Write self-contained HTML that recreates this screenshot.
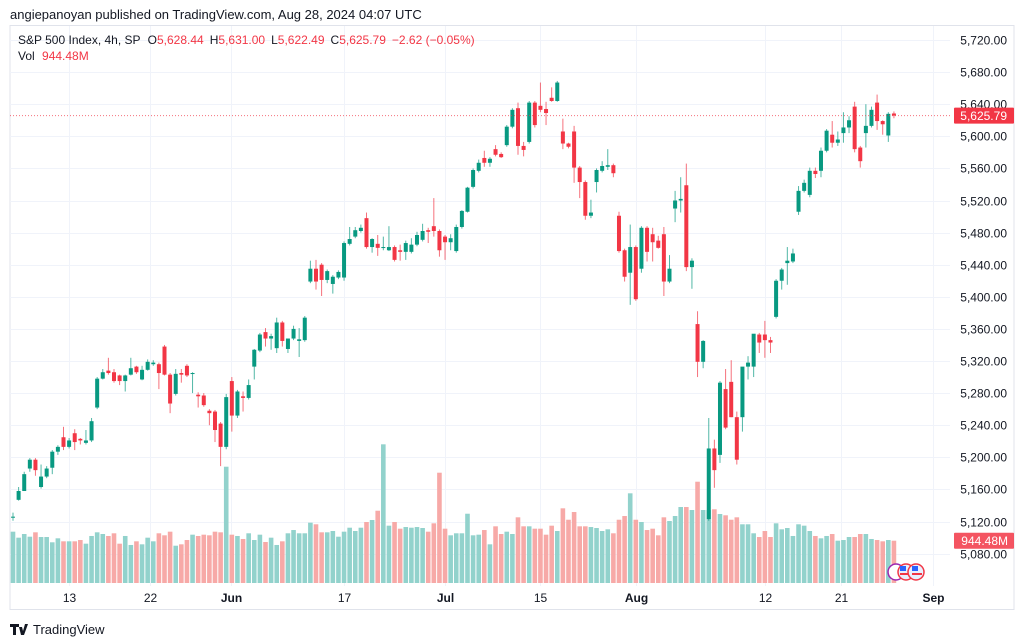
<!DOCTYPE html>
<html><head><meta charset="utf-8"><style>
html,body{margin:0;padding:0;background:#fff;width:1024px;height:643px;overflow:hidden;font-family:"Liberation Sans",sans-serif;}
svg text{font-family:"Liberation Sans",sans-serif;}
</style></head><body>
<svg id="chart" width="1024" height="643" viewBox="0 0 1024 643" xmlns="http://www.w3.org/2000/svg">
<text x="10" y="19" font-size="13" fill="#131722">angiepanoyan published on TradingView.com, Aug 28, 2024 04:07 UTC</text>
<rect x="10" y="25.5" width="1004" height="584" fill="none" stroke="#e0e3eb"/>
<g id="grid"></g>
<g id="vols"></g>
<g id="candles"></g>
<g id="axes"></g>
<text x="18" y="44" font-size="12" fill="#131722">S&amp;P 500 Index, 4h, SP <tspan dx="4">O</tspan><tspan fill="#f23645">5,628.44</tspan><tspan dx="6">H</tspan><tspan fill="#f23645">5,631.00</tspan><tspan dx="6">L</tspan><tspan fill="#f23645">5,622.49</tspan><tspan dx="6">C</tspan><tspan fill="#f23645">5,625.79</tspan><tspan dx="6" fill="#f23645">−2.62 (−0.05%)</tspan></text>
<text x="18" y="60" font-size="12" fill="#131722">Vol <tspan dx="4" fill="#f23645">944.48M</tspan></text>
<g>
<circle cx="896" cy="572" r="8" fill="#fff" stroke="#9c27b0" stroke-width="1.5"/>
<circle cx="906" cy="572" r="8" fill="#e8f0fe" stroke="#f23645" stroke-width="1.5"/>
<rect x="900" y="566" width="6" height="5" fill="#2962ff"/>
<rect x="900" y="573" width="12" height="2" fill="#f23645"/>
<circle cx="916" cy="572" r="8" fill="#e8f0fe" stroke="#f23645" stroke-width="1.5"/>
<rect x="912" y="566" width="6" height="5" fill="#2962ff"/>
<rect x="912" y="573" width="10" height="2" fill="#f23645"/>
</g>
<g>
<path d="M10 624h9v3h-3v8h-3v-8h-3z M19 627h3l1 4 2-7h3l-4 11h-3z" fill="#131722"/>
<text x="33" y="634" font-size="13" fill="#131722">TradingView</text>
</g>
</svg>
<script>
const opens=[5125,5147,5158,5186,5197,5163,5176,5187,5207,5225,5213,5230,5223,5218,5221,5262,5298,5308,5306,5302,5295,5303,5313,5297,5309,5316,5316,5338,5303,5279,5305,5314,5304,5278,5277,5258,5257,5242,5213,5295,5252,5276,5274,5313,5333,5356,5348,5336,5368,5335,5348,5345,5346,
5419,5435,5440,5421,5416,5424,5424,5466,5475,5482,5498,5462,5466,5461,5458,5462,5458,5456,5456,5465,5471,5483,5488,5482,5475,5468,5457,5487,5506,5537,5557,5573,5567,5584,5578,5589,5612,5635,5588,5593,5642,5638,5634,5648,5644,5606,5591,5606,5561,5543,5501,5543,5557,5562,5564,
5501,5458,5430,5462,5435,5486,5478,5470,5478,5419,5510,5520,5539,5437,5366,5319,5123,5211,5203,5285,5294,5250,5250,5313,5313,5353,5353,5346,5375,5420,5442,5444,5506,5532,5527,5557,5557,5582,5602,5592,5604,5611,5637,5586,5604,5613,5642,5619,5601,5628.44];
const highs=[5131,5163,5182,5199,5199,5191,5189,5209,5215,5238,5224,5235,5224,5234,5249,5300,5310,5324,5310,5303,5303,5324,5314,5314,5322,5321,5318,5340,5305,5310,5310,5316,5306,5281,5280,5260,5259,5244,5279,5300,5284,5282,5297,5335,5355,5361,5354,5374,5370,5348,5364,5361,5376,
5445,5446,5442,5434,5427,5433,5469,5487,5487,5490,5505,5473,5477,5475,5488,5464,5465,5470,5473,5481,5491,5486,5523,5484,5477,5478,5490,5508,5537,5560,5571,5582,5574,5589,5580,5614,5635,5642,5593,5644,5644,5667,5643,5661,5669,5622,5592,5613,5563,5545,5521,5560,5569,5584,5566,
5506,5460,5490,5464,5488,5488,5486,5476,5487,5452,5532,5549,5566,5448,5382,5346,5249,5222,5295,5310,5321,5257,5252,5326,5335,5355,5370,5350,5422,5436,5462,5460,5538,5546,5561,5561,5586,5609,5619,5606,5630,5625,5643,5588,5640,5637,5652,5620,5630,5631];
const lows=[5121,5146,5158,5182,5177,5161,5174,5179,5203,5209,5211,5209,5216,5216,5219,5260,5297,5303,5293,5290,5282,5302,5304,5296,5308,5314,5285,5302,5255,5277,5293,5300,5280,5262,5263,5240,5219,5189,5210,5232,5249,5257,5272,5297,5331,5338,5334,5330,5338,5330,5346,5325,5344,
5417,5409,5401,5417,5404,5422,5420,5464,5473,5480,5460,5455,5451,5458,5457,5444,5445,5446,5454,5463,5469,5467,5475,5450,5446,5458,5455,5485,5505,5535,5555,5562,5562,5575,5573,5587,5610,5577,5575,5591,5611,5630,5614,5643,5643,5584,5585,5542,5523,5496,5498,5530,5555,5558,5549,
5455,5419,5390,5395,5430,5444,5444,5460,5401,5417,5493,5505,5432,5410,5300,5311,5121,5162,5193,5235,5250,5191,5232,5297,5300,5330,5324,5330,5373,5409,5415,5442,5502,5530,5524,5548,5549,5580,5586,5588,5592,5604,5580,5561,5586,5611,5608,5602,5593,5622.49];
const closes=[5126,5158,5179,5197,5184,5176,5186,5207,5213,5213,5221,5219,5221,5221,5245,5298,5306,5305,5295,5295,5302,5311,5306,5309,5319,5318,5305,5303,5267,5304,5303,5302,5305,5276,5265,5255,5234,5213,5275,5252,5282,5274,5290,5334,5353,5348,5351,5368,5345,5348,5360,5347,5374,
5435,5419,5421,5432,5425,5431,5467,5472,5483,5486,5462,5472,5461,5462,5462,5446,5456,5467,5465,5477,5482,5481,5482,5458,5468,5473,5487,5507,5536,5558,5567,5567,5572,5577,5574,5612,5633,5588,5583,5642,5614,5633,5629,5644,5667,5591,5587,5561,5543,5501,5505,5558,5563,5564,5554,
5457,5425,5462,5397,5486,5456,5468,5461,5419,5435,5520,5522,5437,5445,5319,5345,5211,5184,5293,5237,5250,5197,5313,5318,5354,5343,5346,5343,5420,5434,5445,5454,5532,5542,5557,5553,5582,5607,5592,5596,5611,5620,5584,5569,5613,5633,5619,5615,5628,5625.79];
const volumes=[1146,1012,1094,1034,1132,1027,1027,909,998,931,931,931,960,878,1050,1132,1094,1050,1110,878,1050,849,931,864,1012,931,1110,1065,1146,833,864,960,1079,1050,1079,1065,1146,1132,2597,1079,1050,983,1110,960,1079,916,1012,849,931,1110,1183,1110,1110,1347,1311,1132,1132,1161,1034,1146,1235,1161,1235,1362,1407,1614,3097,1280,1362,1213,1250,1235,1250,1228,1146,1333,2463,1213,1065,1110,1110,1547,1065,1079,1183,864,1266,1094,1146,1094,1467,1266,1266,1213,1213,1079,1280,1161,1668,1413,1585,1266,1266,1250,1228,1161,1199,1110,1413,1496,2003,1413,1362,1183,1213,1065,1467,1384,1496,1697,1697,1630,2262,1630,1630,1646,1541,1512,1413,1467,1311,1311,1110,1027,1161,1027,1333,1199,1228,1050,1311,1280,1161,1050,998,1050,1094,945,960,1027,1027,1094,1094,983,960,931,960,944.48];
const priceTicks=[5720,5680,5640,5600,5560,5520,5480,5440,5400,5360,5320,5280,5240,5200,5160,5120,5080];
const timeLabels=["13","22","Jun","17","Jul","15","Aug","12","21","Sep"];
const timeLabelBars=[10,24.5,38.8,59,77,94,111,134,147.5,164];
const boldLabels=["Jun","Jul","Aug","Sep"];
const lastPrice=5625.79;
const lastVolume=944.48;

const NS="http://www.w3.org/2000/svg";
const xOf=i=>13+i*5.611;
const yOf=p=>40+(5720-p)*0.8025;
const vOf=v=>583-v*0.04478;
function mk(tag,attrs,parent){const e=document.createElementNS(NS,tag);for(const k in attrs)e.setAttribute(k,attrs[k]);parent.appendChild(e);return e;}
const grid=document.getElementById('grid'),axes=document.getElementById('axes'),cg=document.getElementById('candles'),vg=document.getElementById('vols');
priceTicks.forEach(p=>{
  const y=Math.round(yOf(p))+0.5;
  const l=mk('line',{x1:10,x2:950,y1:y,y2:y,stroke:'#f0f3fa'},grid);
  
  
  const t=mk('text',{x:1007,y:y+4,'font-size':12,fill:'#131722','text-anchor':'end'},axes);
  t.textContent=p.toLocaleString('en-US')+'.00';
  
  
});
timeLabels.forEach((s,k)=>{
  const x=Math.round(xOf(timeLabelBars[k]))+0.5;
  const l=mk('line',{x1:x,x2:x,y1:26,y2:586,stroke:'#f0f3fa'},grid);
  
  
  const t=mk('text',{x:x,y:602,'font-size':12,fill:'#131722','text-anchor':'middle','font-weight':boldLabels.includes(s)?'bold':'normal'},axes);
  t.textContent=s;
  
  
});
volumes.forEach((v,i)=>{
  const up=closes[i]>=opens[i];
  const y=vOf(v);
  const r=mk('rect',{x:xOf(i)-2.3,y:y,width:4.6,height:583-y,fill:up?'#92d2cc':'#f7a9a7'},vg);
  
  
});
opens.forEach((o,i)=>{
  const c=closes[i],up=c>=o,col=up?'#089981':'#f23645';
  const x=xOf(i);
  const g=mk('g',{},cg);
  
  
  mk('line',{x1:x,x2:x,y1:yOf(highs[i]),y2:yOf(lows[i]),stroke:col,'stroke-width':1,opacity:0.7},g);
  const yt=yOf(Math.max(o,c)),yb=yOf(Math.min(o,c));
  mk('rect',{x:x-2,y:yt,width:4,height:Math.max(1,yb-yt),fill:col},g);
});
// last price line & labels
const ly=yOf(lastPrice);
const pl=mk('line',{x1:10,x2:952,y1:ly,y2:ly,stroke:'#f23645','stroke-width':1,'stroke-dasharray':'1 2',opacity:0.7},axes);


const pb=mk('rect',{x:954,y:ly-8,width:60,height:16,fill:'#f23645',rx:1},axes);


const pt=mk('text',{x:1007,y:ly+4.5,'font-size':12,fill:'#fff','text-anchor':'end'},axes);
pt.textContent=lastPrice.toLocaleString('en-US',{minimumFractionDigits:2});


const vy=vOf(lastVolume);
const vb=mk('rect',{x:954,y:vy-8,width:60,height:16,fill:'#f23645',rx:1,opacity:0.85},axes);


const vt=mk('text',{x:1008,y:vy+4.5,'font-size':12,fill:'#fff','text-anchor':'end'},axes);
vt.textContent=lastVolume.toFixed(2)+'M';


</script>
</body></html>
